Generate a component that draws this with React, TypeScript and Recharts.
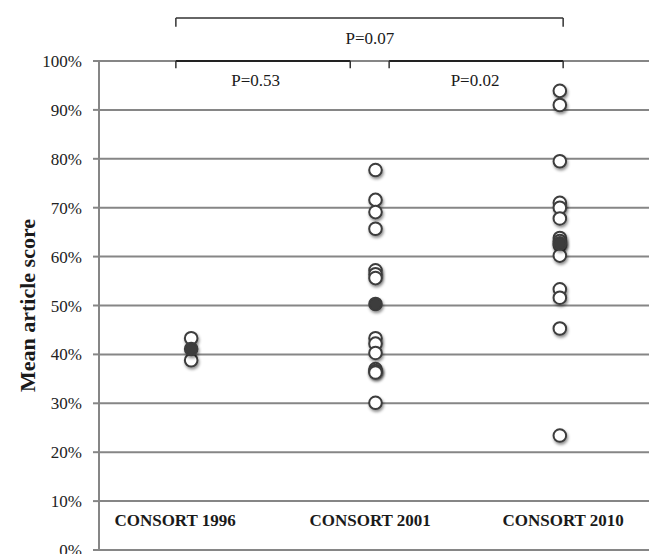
import React from 'react';
import {
  ScatterChart,
  Scatter,
  XAxis,
  YAxis,
  CartesianGrid,
  ReferenceLine,
  ReferenceDot
} from 'recharts';

// Mean article score per article (percent)
const categories = ['CONSORT 1996', 'CONSORT 2001', 'CONSORT 2010'];
const scores1996 = [43.3, 38.8];
const scores2001 = [77.7, 71.6, 69.1, 65.7, 57.2, 56.4, 55.6, 43.3, 42.2, 40.3, 37.0, 36.6, 36.3, 30.1];
const scores2010 = [93.9, 91.0, 79.5, 71.0, 70.0, 67.8, 63.8, 63.2, 62.3, 60.2, 53.3, 51.6, 45.3, 23.4];
const groupMeans = [41.1, 50.3, 62.7];
const yTicks = [0, 10, 20, 30, 40, 50, 60, 70, 80, 90, 100];
const pValues = ['P=0.53', 'P=0.02', 'P=0.07'];

const SERIF = '"Liberation Serif", "Times New Roman", serif';
const INK = '#3c3c3c';

const ringPoints = [scores1996, scores2001, scores2010].flatMap((list, i) =>
  list.map(y => ({ x: i + 1, y }))
);
const meanPoints = groupMeans.map((y, i) => ({ x: i + 1, y }));

function Ring(props: any) {
  const { cx, cy, filled } = props;
  if (cx == null || cy == null) return null;
  return (
    <g>
      <defs>
        <filter id="ringShadow" x="-100%" y="-100%" width="300%" height="300%">
          <feDropShadow dx="1" dy="2" stdDeviation="1.6" floodColor="#000" floodOpacity="0.45" />
        </filter>
      </defs>
      <circle
        cx={cx}
        cy={cy}
        r={6.3}
        fill={filled ? INK : '#fff'}
        stroke={INK}
        strokeWidth={2}
        filter="url(#ringShadow)"
      />
    </g>
  );
}

const textStyle = { fontFamily: SERIF, fill: '#1a1a1a' };

export default function App() {
  return (
    <div style={{ position: 'absolute', left: 0, top: 0, width: 649, height: 554, overflow: 'hidden', background: '#fff' }}>
      <ScatterChart width={653} height={554} margin={{ top: 61, right: 1, bottom: 4, left: 0 }}>
        <CartesianGrid vertical={false} stroke="#868686" strokeWidth={2} />
        <XAxis type="number" dataKey="x" domain={[0.5, 3.5]} hide />
        <YAxis
          type="number"
          dataKey="y"
          domain={[0, 100]}
          ticks={yTicks}
          interval={0}
          width={99}
          tickSize={6}
          tickMargin={11}
          stroke="#868686"
          strokeWidth={2}
          tick={{ fontSize: 17, fontFamily: SERIF, fill: '#222' }}
          tickFormatter={(v: number) => `${v}%`}
          label={{
            value: 'Mean article score',
            angle: -90,
            position: 'insideLeft',
            offset: 0,
            dx: 27,
            style: { fontSize: 22, fontWeight: 'bold', fontFamily: SERIF, fill: '#1a1a1a', textAnchor: 'middle' }
          }}
        />

        {/* significance brackets */}
        <ReferenceLine segment={[{ x: 0.917, y: 108.8 }, { x: 3.018, y: 108.8 }]} stroke="#333" strokeWidth={1.5} ifOverflow="visible" />
        <ReferenceLine segment={[{ x: 0.917, y: 108.8 }, { x: 0.917, y: 107 }]} stroke="#333" strokeWidth={1.5} ifOverflow="visible" />
        <ReferenceLine segment={[{ x: 3.018, y: 108.8 }, { x: 3.018, y: 107 }]} stroke="#333" strokeWidth={1.5} ifOverflow="visible" />

        <ReferenceLine segment={[{ x: 0.917, y: 100 }, { x: 1.863, y: 100 }]} stroke="#222" strokeWidth={2} ifOverflow="visible" />
        <ReferenceLine segment={[{ x: 0.917, y: 100 }, { x: 0.917, y: 98.5 }]} stroke="#333" strokeWidth={1.5} ifOverflow="visible" />
        <ReferenceLine segment={[{ x: 1.863, y: 100 }, { x: 1.863, y: 98.5 }]} stroke="#333" strokeWidth={1.5} ifOverflow="visible" />

        <ReferenceLine segment={[{ x: 2.074, y: 100 }, { x: 3.018, y: 100 }]} stroke="#222" strokeWidth={2} ifOverflow="visible" />
        <ReferenceLine segment={[{ x: 2.074, y: 100 }, { x: 2.074, y: 98.5 }]} stroke="#333" strokeWidth={1.5} ifOverflow="visible" />
        <ReferenceLine segment={[{ x: 3.018, y: 100 }, { x: 3.018, y: 98.5 }]} stroke="#333" strokeWidth={1.5} ifOverflow="visible" />

        <ReferenceDot x={1.35} y={96.1} r={0} fill="none" stroke="none" ifOverflow="visible"
          label={{ value: pValues[0], position: 'center', fontSize: 17, ...textStyle }} />
        <ReferenceDot x={2.54} y={96.1} r={0} fill="none" stroke="none" ifOverflow="visible"
          label={{ value: pValues[1], position: 'center', fontSize: 17, ...textStyle }} />
        <ReferenceDot x={1.97} y={104.8} r={0} fill="none" stroke="none" ifOverflow="visible"
          label={{ value: pValues[2], position: 'center', fontSize: 17, ...textStyle }} />

        {/* category labels */}
        <ReferenceDot x={0.913} y={6.1} r={0} fill="none" stroke="none" ifOverflow="visible"
          label={{ value: categories[0], position: 'center', fontSize: 17, fontWeight: 'bold', ...textStyle }} />
        <ReferenceDot x={1.971} y={6.1} r={0} fill="none" stroke="none" ifOverflow="visible"
          label={{ value: categories[1], position: 'center', fontSize: 17, fontWeight: 'bold', ...textStyle }} />
        <ReferenceDot x={3.018} y={6.1} r={0} fill="none" stroke="none" ifOverflow="visible"
          label={{ value: categories[2], position: 'center', fontSize: 17, fontWeight: 'bold', ...textStyle }} />

        <Scatter data={ringPoints} shape={(p: any) => <Ring {...p} />} isAnimationActive={false} />
        <Scatter data={meanPoints} shape={(p: any) => <Ring {...p} filled />} isAnimationActive={false} />
      </ScatterChart>
    </div>
  );
}
